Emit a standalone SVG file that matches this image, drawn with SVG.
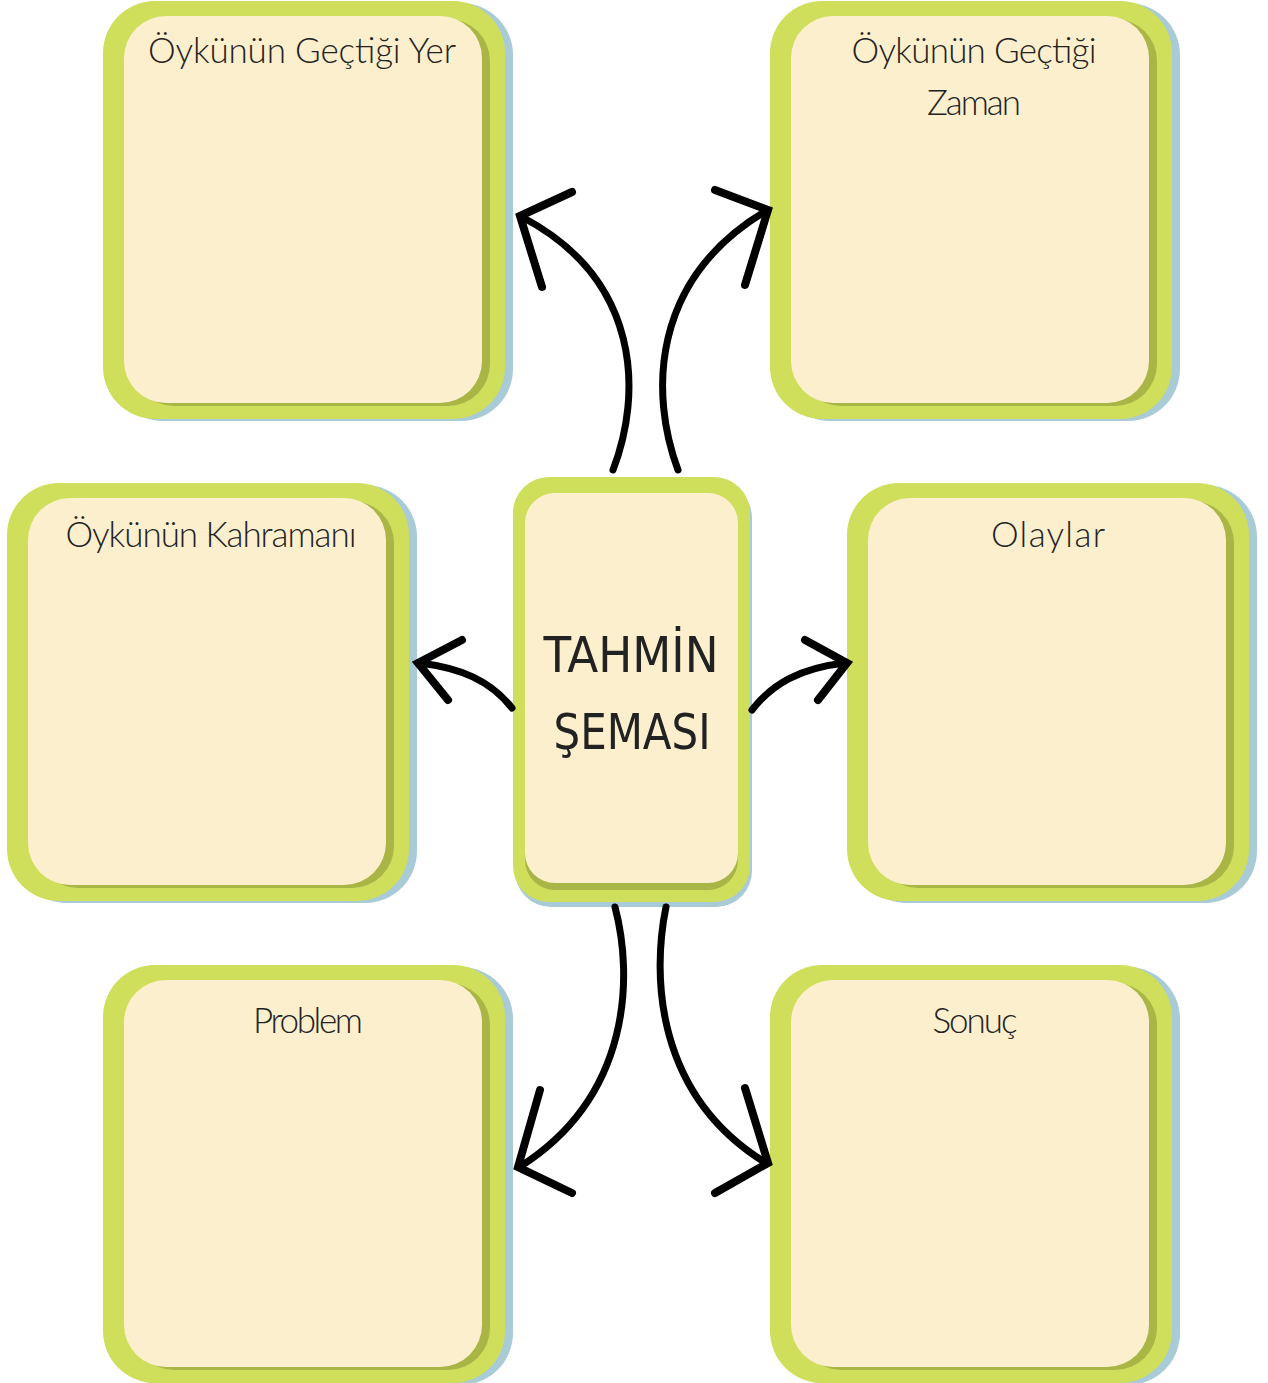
<svg xmlns="http://www.w3.org/2000/svg" xmlns:xlink="http://www.w3.org/1999/xlink" width="1268" height="1383" viewBox="0 0 1268 1383">
<style>
.blue{fill:#a9cbd8}
.green{fill:#cfde5b}
.olive{fill:#a9b645}
.cream{fill:#fcefcd}
.t{font-family:Lato,"Open Sans","DejaVu Sans",sans-serif;font-weight:300;font-size:35px;fill:#222;text-anchor:middle}
.big{font-family:"DejaVu Sans Condensed","Liberation Sans",sans-serif;font-size:50px;fill:#222;text-anchor:middle}
.arr{fill:none;stroke:#000;stroke-width:7;stroke-linecap:round;stroke-linejoin:round}
.head{fill:none;stroke:#000;stroke-width:8;stroke-linecap:round;stroke-linejoin:miter}
</style>
<defs>
<g id="card">
<rect class="blue" x="8" y="2" width="402" height="418" rx="52"/>
<rect class="green" x="0" y="0" width="402" height="418" rx="52"/>
<rect class="olive" x="29" y="18" width="358" height="387" rx="42"/>
<rect class="cream" x="21" y="15" width="358" height="387" rx="42"/>
</g>
</defs>
<g id="node-yer">
<use xlink:href="#card" href="#card" x="103" y="1"/>
<text class="t" x="302" y="63" textLength="308">Öykünün Geçtiği Yer</text>
</g>
<g id="node-zaman">
<use xlink:href="#card" href="#card" x="770" y="1"/>
<text class="t" x="974" y="63" textLength="245">Öykünün Geçtiği</text>
<text class="t" x="974" y="115" textLength="94">Zaman</text>
</g>
<g id="node-kahraman">
<use xlink:href="#card" href="#card" x="7" y="483"/>
<text class="t" x="211" y="547" textLength="291">Öykünün Kahramanı</text>
</g>
<g id="node-olaylar">
<use xlink:href="#card" href="#card" x="847" y="483"/>
<text class="t" x="1048" y="547" textLength="114">Olaylar</text>
</g>
<g id="node-problem">
<use xlink:href="#card" href="#card" x="103" y="965"/>
<text class="t" x="308" y="1033" textLength="110">Problem</text>
</g>
<g id="node-sonuc">
<use xlink:href="#card" href="#card" x="770" y="965"/>
<text class="t" x="975" y="1033" textLength="85">Sonuç</text>
</g>
<g id="node-center">
<rect class="blue" x="515" y="482" width="237" height="425" rx="36"/>
<rect class="green" x="513" y="477" width="237" height="425" rx="36"/>
<rect class="olive" x="525" y="500" width="213" height="390" rx="30"/>
<rect class="cream" x="525" y="493" width="213" height="390" rx="30"/>
<text class="big" x="631" y="672" textLength="175" lengthAdjust="spacingAndGlyphs">TAHMİN</text>
<text class="big" x="632" y="749" textLength="157" lengthAdjust="spacingAndGlyphs">ŞEMASI</text>
</g>
<g id="connectors">
<path class="arr" d="M613,470 C642,395 642,280 522,217"/>
<path class="head" d="M572,192 L520,216 L542,287"/>
<path class="arr" d="M678,470 C650,395 650,280 766,211"/>
<path class="head" d="M715,190 L768,210 L745,285"/>
<path class="arr" d="M615,907 C633,975 632,1095 521,1166"/>
<path class="head" d="M540,1090 L518,1167 L572,1193"/>
<path class="arr" d="M666,907 C652,975 655,1095 766,1163"/>
<path class="head" d="M745,1088 L768,1163 L715,1193"/>
<path class="arr" d="M512,708 C490,680 460,668 420,663"/>
<path class="head" d="M462,640 L418,663 L448,700"/>
<path class="arr" d="M752,710 C772,684 800,668 845,663"/>
<path class="head" d="M805,640 L847,663 L818,700"/>
</g>
</svg>
